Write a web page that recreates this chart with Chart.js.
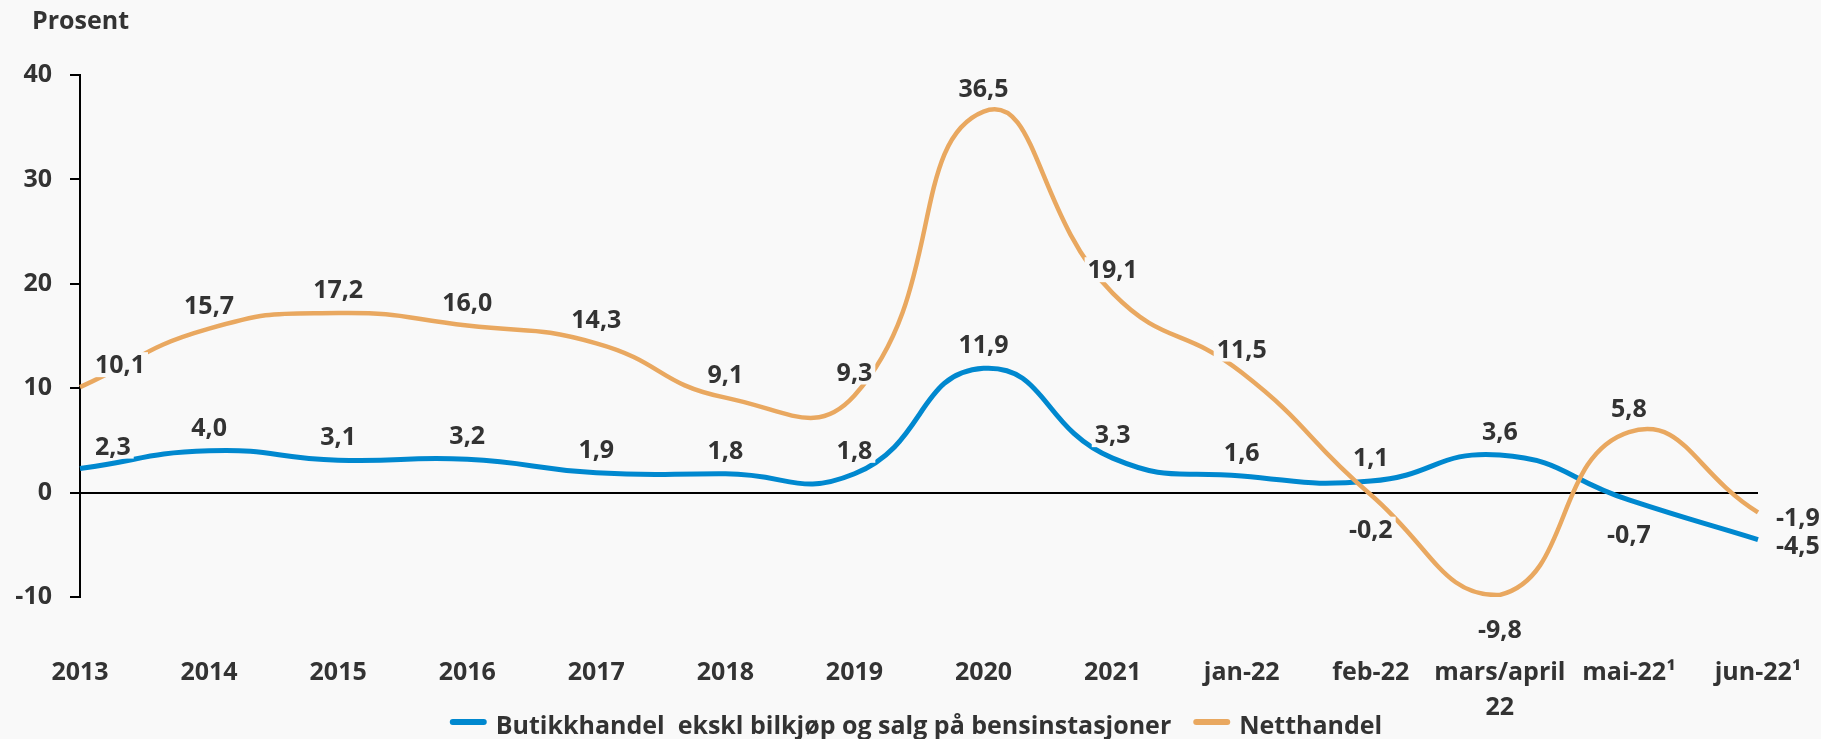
<!DOCTYPE html>
<html>
<head>
<meta charset="utf-8">
<script src="https://cdn.jsdelivr.net/npm/chart.js@4/dist/chart.umd.min.js"></script>
<style>
  html, body { margin: 0; padding: 0; background: #f9f9f9; }
  #wrap { width: 1821px; height: 739px; }
</style>
</head>
<body>
<div id="wrap"><canvas id="chart" width="1821" height="739"></canvas></div>
<script>
const categories = ['2013', '2014', '2015', '2016', '2017', '2018', '2019', '2020', '2021',
  'jan-22', 'feb-22', ['mars/april', '22'], 'mai-22¹', 'jun-22¹']
const butikkhandel = [2.3, 4.0, 3.1, 3.2, 1.9, 1.8, 1.8, 11.9, 3.3, 1.6, 1.1, 3.6, -0.7, -4.5]
const netthandel = [10.1, 15.7, 17.2, 16.0, 14.3, 9.1, 9.3, 36.5, 19.1, 11.5, -0.2, -9.8, 5.8, -1.9]
const seriesNames = ['Butikkhandel  ekskl bilkjøp og salg på bensinstasjoner', 'Netthandel']
const yMin = -10
const yMax = 40
const yStep = 10

const bg = '#f9f9f9'
const textColor = '#333333'
const fontFamily = '"Open Sans", "Noto Sans", sans-serif'
const fontSize = 25
const font = `bold ${fontSize}px ${fontFamily}`

// background, "Prosent" and the legend (the built-in legend would clip the 2-line x label)
const decor = {
  id: 'decor',
  beforeDraw(chart) {
    const ctx = chart.ctx
    ctx.save()
    ctx.fillStyle = bg
    ctx.fillRect(0, 0, chart.width, chart.height)
    ctx.restore()
  },
  afterDraw(chart) {
    const ctx = chart.ctx
    ctx.save()
    ctx.font = font
    ctx.fillStyle = textColor
    ctx.textAlign = 'left'
    ctx.textBaseline = 'alphabetic'
    ctx.fillText('Prosent', 32, 29)

    // legend
    const boxW = 37, boxH = 6, gap = 9, spacing = 22
    const items = chart.data.datasets.map((ds) => ({ text: ds.label, color: ds.borderColor }))
    const widths = items.map((it) => boxW + gap + ctx.measureText(it.text).width)
    const total = widths.reduce((a, b) => a + b, 0) + spacing * (items.length - 1)
    let x = 916 - total / 2
    items.forEach((it, k) => {
      ctx.fillStyle = it.color
      ctx.beginPath()
      ctx.roundRect(x, 719, boxW, boxH, 3)
      ctx.fill()
      ctx.fillStyle = textColor
      ctx.fillText(it.text, x + boxW + gap, 734)
      x += widths[k] + spacing
    })
    ctx.restore()
  }
}

// value labels with a box in the background colour, like the excel labels
const valueLabels = {
  id: 'valueLabels',
  afterDatasetsDraw(chart) {
    const ctx = chart.ctx
    ctx.save()
    ctx.font = font
    ctx.textAlign = 'center'
    ctx.textBaseline = 'alphabetic'
    chart.data.datasets.forEach((ds, i) => {
      const meta = chart.getDatasetMeta(i)
      const last = ds.data.length - 1
      meta.data.forEach((pt, j) => {
        const v = ds.data[j]
        const text = v.toFixed(1).replace('.', ',')
        const w = ctx.measureText(text).width
        let x = pt.x
        let y = pt.y
        if (j === 0) { x += 15 + w / 2; y -= 23 }
        else if (j === last) { x += 18 + w / 2; y += 5 }
        else if (v < 0) { y += 34 }
        else { y -= 24 }
        ctx.fillStyle = bg
        ctx.fillRect(x - w / 2 - 3, y - 12, w + 6, 25)
        ctx.fillStyle = textColor
        ctx.fillText(text, x, y + 9)
      })
    })
    ctx.restore()
  }
}

const ctx = document.getElementById('chart').getContext('2d')
const chart = new Chart(ctx, {
  type: 'line',
  data: {
    labels: categories,
    datasets: [{
      label: seriesNames[0],
      data: butikkhandel,
      borderColor: '#0088cf',
      backgroundColor: '#0088cf',
      borderWidth: 5,
      order: 1
    }, {
      label: seriesNames[1],
      data: netthandel,
      borderColor: '#e9a860',
      backgroundColor: '#e9a860',
      borderWidth: 4.5,
      order: 0
    }]
  },
  options: {
    responsive: false,
    animation: false,
    events: [],
    layout: { padding: { top: 75, right: 63, left: 0, bottom: 0 } },
    elements: {
      point: { radius: 0, hoverRadius: 0 },
      line: { tension: 0.5, borderCapStyle: 'butt' }
    },
    scales: {
      x: {
        offset: false,
        grid: { display: false },
        border: { display: false },
        ticks: {
          color: textColor,
          padding: 50,
          maxRotation: 0,
          autoSkip: false,
          font: { family: fontFamily, size: fontSize, weight: 'bold', lineHeight: 1.4 }
        },
        afterFit(scale) {
          scale.height = 142
          scale.paddingLeft = 0
          scale.paddingRight = 0
        }
      },
      y: {
        min: yMin,
        max: yMax,
        ticks: {
          stepSize: yStep,
          color: textColor,
          padding: 18,
          font: { family: fontFamily, size: fontSize, weight: 'bold' }
        },
        grid: {
          color: (c) => c.tick && c.tick.value === 0 ? '#000' : 'rgba(0,0,0,0)',
          lineWidth: 2,
          tickColor: '#000',
          tickLength: 10
        },
        border: { display: true, color: '#000', width: 2 },
        afterFit(scale) {
          scale.width = 80
          scale.paddingTop = 0
          scale.paddingBottom = 0
        }
      }
    },
    plugins: {
      tooltip: { enabled: false },
      title: { display: false },
      legend: { display: false }
    }
  },
  plugins: [decor, valueLabels]
})
</script>
</body>
</html>
